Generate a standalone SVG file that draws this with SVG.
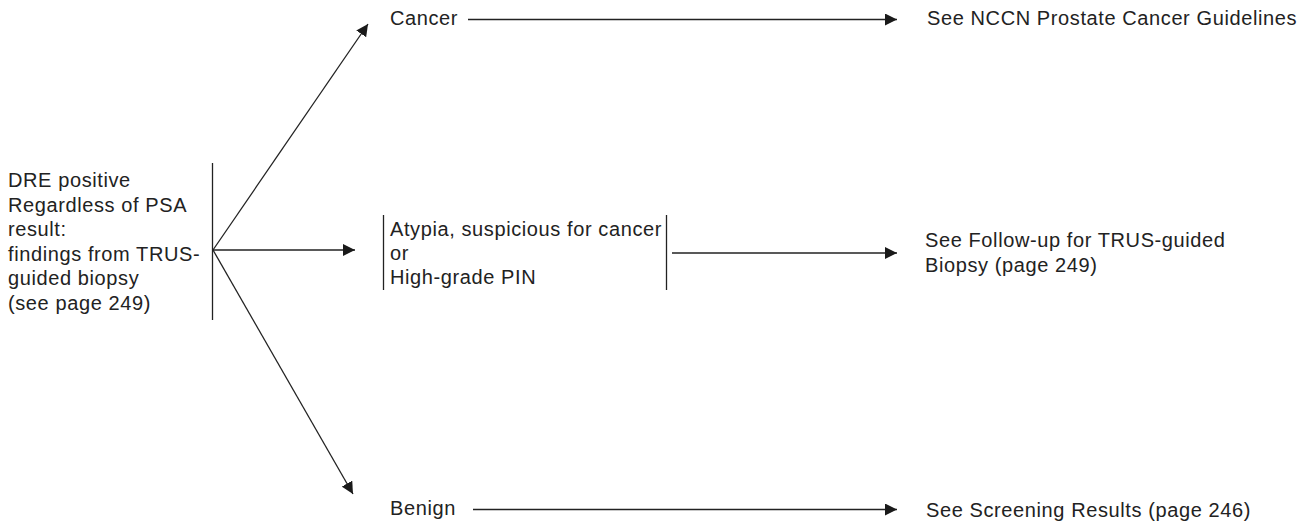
<svg xmlns="http://www.w3.org/2000/svg" width="1311" height="527" viewBox="0 0 1311 527">
<defs>
<marker id="arr" viewBox="0 0 12 12" refX="12" refY="6" markerWidth="12" markerHeight="12" markerUnits="userSpaceOnUse" orient="auto">
<path d="M0,0 L12,6 L0,12 Z" fill="#1a1a1a"/>
</marker>
</defs>
<style>
text{font-family:"Liberation Sans",Arial,sans-serif;font-size:20px;letter-spacing:0.6px;fill:#222}
.ln{stroke:#222;stroke-width:1.3;fill:none}
.ar{stroke:#222;stroke-width:1.3;fill:none;marker-end:url(#arr)}
</style>
<rect width="1311" height="527" fill="#fff"/>
<g id="start">
<text x="8" y="187">DRE positive</text>
<text x="8" y="211.5">Regardless of PSA</text>
<text x="8" y="236">result:</text>
<text x="8" y="260.5">findings from TRUS-</text>
<text x="8" y="285">guided biopsy</text>
<text x="8" y="309.5">(see page 249)</text>
<line class="ln" x1="212.5" y1="163" x2="212.5" y2="320"/>
</g>
<g id="cancer"><text x="390" y="25">Cancer</text></g>
<g id="atypia">
<line class="ln" x1="383.5" y1="215" x2="383.5" y2="290"/>
<text x="390" y="236">Atypia, suspicious for cancer</text>
<text x="390" y="260">or</text>
<text x="390" y="284">High-grade PIN</text>
<line class="ln" x1="666.5" y1="215" x2="666.5" y2="290"/>
</g>
<g id="benign"><text x="390" y="515">Benign</text></g>
<g id="nccn"><text x="927" y="25">See NCCN Prostate Cancer Guidelines</text></g>
<g id="followup">
<text x="925" y="247">See Follow-up for TRUS-guided</text>
<text x="925" y="272">Biopsy (page 249)</text>
</g>
<g id="screening"><text x="926" y="517">See Screening Results (page 246)</text></g>
<g id="connectors">
<line class="ar" x1="213" y1="250" x2="368" y2="24"/>
<line class="ar" x1="213" y1="250" x2="355" y2="250"/>
<line class="ar" x1="213" y1="250" x2="353" y2="494"/>
<line class="ar" x1="468" y1="19.5" x2="897" y2="19.5"/>
<line class="ar" x1="672" y1="253" x2="897" y2="253"/>
<line class="ar" x1="473" y1="509.5" x2="897" y2="509.5"/>
</g>
</svg>
